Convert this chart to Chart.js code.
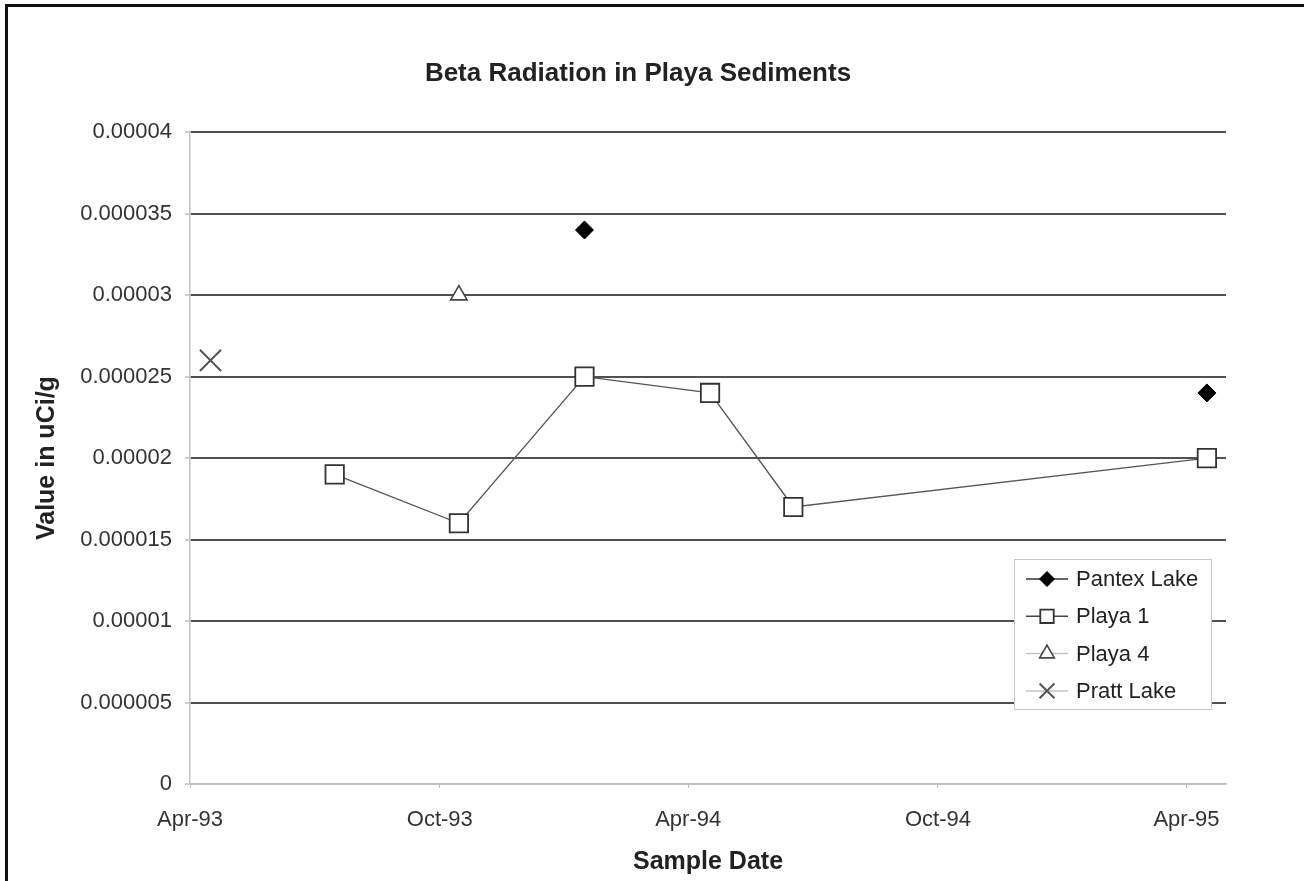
<!DOCTYPE html>
<html>
<head>
<meta charset="utf-8">
<title>Beta Radiation in Playa Sediments</title>
<script src="https://cdn.jsdelivr.net/npm/chart.js@4/dist/chart.umd.min.js"></script>
<style>
  html, body { margin: 0; padding: 0; background: #fff; overflow: hidden; }
  canvas { display: block; }
  #frame {
    position: absolute; left: 5px; top: 4px; width: 1299px; height: 900px;
    box-sizing: border-box; border-top: 3px solid #111; border-left: 3px solid #111;
    pointer-events: none;
  }
</style>
</head>
<body>
<canvas id="betaChart" width="1307" height="881"></canvas>
<div id="frame"></div>
<script>
// Sample dates and values (uCi/g) for each site
var pantexDates = ['1994-01-15', '1995-04-16'];
var pantexValues = [0.000034, 0.000024];

var playa1Dates = ['1993-07-16', '1993-10-15', '1994-01-15', '1994-04-17', '1994-06-17', '1995-04-16'];
var playa1Values = [0.000019, 0.000016, 0.000025, 0.000024, 0.000017, 0.00002];

var playa4Dates = ['1993-10-15'];
var playa4Values = [0.00003];

var prattDates = ['1993-04-16'];
var prattValues = [0.000026];

// Axis ticks
var xTickDates = ['1993-04-01', '1993-10-01', '1994-04-01', '1994-10-01', '1995-04-01'];
var xTickLabels = ['Apr-93', 'Oct-93', 'Apr-94', 'Oct-94', 'Apr-95'];
var xStartDate = '1993-04-01';
var xEndDate = '1995-04-30';

var yTickValues = [0, 0.000005, 0.00001, 0.000015, 0.00002, 0.000025, 0.00003, 0.000035, 0.00004];
var yTickLabels = ['0', '0.000005', '0.00001', '0.000015', '0.00002', '0.000025', '0.00003', '0.000035', '0.00004'];

// Days since the start of the axis
function dayOf(dateStr) {
    var p = dateStr.split('-');
    var s = xStartDate.split('-');
    var t = Date.UTC(+p[0], +p[1] - 1, +p[2]);
    var t0 = Date.UTC(+s[0], +s[1] - 1, +s[2]);
    return Math.round((t - t0) / 86400000);
}

function toPoints(dates, values) {
    return dates.map(function(d, i) {
        return { x: dayOf(d), y: values[i] };
    });
}

var FONT = "'Liberation Sans', Arial, sans-serif";

// Legend drawn inside the plot area, like the original
var boxLegend = {
    id: 'boxLegend',
    afterDraw: function(chart) {
        var ctx = chart.ctx;
        var left = 1014, top = 559, w = 197, h = 150;
        var rowH = 37.3;
        ctx.save();
        ctx.fillStyle = '#fff';
        ctx.fillRect(left, top, w, h);
        ctx.strokeStyle = '#c8c8c8';
        ctx.lineWidth = 1;
        ctx.strokeRect(left + 0.5, top + 0.5, w, h);

        var sizes = [7.5, 9.5, 8.5, 10.5];
        var lineColors = ['#333', '#444', '#c4c4c4', '#c4c4c4'];
        chart.data.datasets.forEach(function(ds, i) {
            var y = top + 20 + i * rowH;
            ctx.strokeStyle = lineColors[i];
            ctx.lineWidth = 1.5;
            ctx.beginPath();
            ctx.moveTo(left + 12, y);
            ctx.lineTo(left + 54, y);
            ctx.stroke();

            ctx.fillStyle = ds.pointBackgroundColor;
            ctx.strokeStyle = ds.pointBorderColor;
            ctx.lineWidth = ds.pointBorderWidth;
            Chart.helpers.drawPoint(ctx, {
                pointStyle: ds.pointStyle,
                radius: sizes[i],
                borderWidth: ds.pointBorderWidth,
                rotation: 0
            }, left + 33, y);

            ctx.fillStyle = '#222';
            ctx.font = '22px ' + FONT;
            ctx.textBaseline = 'middle';
            ctx.textAlign = 'left';
            ctx.fillText(ds.label, left + 62, y + 1);
        });
        ctx.restore();
    }
};

var ctx = document.getElementById('betaChart').getContext('2d');
var betaChart = new Chart(ctx, {
    type: 'scatter',
    data: {
        datasets: [{
            label: 'Pantex Lake',
            data: toPoints(pantexDates, pantexValues),
            showLine: false,
            pointStyle: 'rectRot',
            pointRadius: 9,
            pointBackgroundColor: '#000',
            pointBorderColor: '#000',
            pointBorderWidth: 1
        }, {
            label: 'Playa 1',
            data: toPoints(playa1Dates, playa1Values),
            showLine: true,
            borderColor: '#555',
            borderWidth: 1.4,
            pointStyle: 'rect',
            pointRadius: 13,
            pointBackgroundColor: '#fff',
            pointBorderColor: '#333',
            pointBorderWidth: 1.8
        }, {
            label: 'Playa 4',
            data: toPoints(playa4Dates, playa4Values),
            showLine: false,
            pointStyle: 'triangle',
            pointRadius: 9.5,
            pointBackgroundColor: '#fff',
            pointBorderColor: '#444',
            pointBorderWidth: 1.6
        }, {
            label: 'Pratt Lake',
            data: toPoints(prattDates, prattValues),
            showLine: false,
            pointStyle: 'crossRot',
            pointRadius: 15,
            pointBackgroundColor: '#555',
            pointBorderColor: '#555',
            pointBorderWidth: 2
        }]
    },
    options: {
        responsive: false,
        animation: false,
        devicePixelRatio: 1,
        layout: {
            padding: { left: 50, right: 81, top: 10, bottom: 0 }
        },
        plugins: {
            legend: { display: false },
            tooltip: { enabled: false },
            title: {
                display: true,
                text: 'Beta Radiation in Playa Sediments',
                color: '#222',
                font: { family: FONT, size: 26, weight: 'bold' },
                padding: { top: 48, bottom: 43 }
            }
        },
        scales: {
            x: {
                type: 'linear',
                min: dayOf(xStartDate),
                max: dayOf(xEndDate),
                afterBuildTicks: function(scale) {
                    scale.ticks = xTickDates.map(function(d) { return { value: dayOf(d) }; });
                },
                afterFit: function(scale) {
                    scale.height = 97;
                },
                ticks: {
                    autoSkip: false,
                    maxRotation: 0,
                    padding: 19,
                    color: '#333',
                    font: { family: FONT, size: 22 },
                    callback: function(value, index) {
                        return xTickLabels[index];
                    }
                },
                grid: {
                    drawOnChartArea: false,
                    tickLength: 4,
                    tickColor: '#bdbdbd'
                },
                border: { color: '#bdbdbd', width: 1.5 },
                title: {
                    display: true,
                    text: 'Sample Date',
                    color: '#222',
                    font: { family: FONT, size: 25, weight: 'bold' },
                    padding: { top: 0, bottom: 4 }
                }
            },
            y: {
                min: 0,
                max: 0.00004,
                afterBuildTicks: function(scale) {
                    scale.ticks = yTickValues.map(function(v) { return { value: v }; });
                },
                afterFit: function(scale) {
                    scale.width = 140;
                },
                ticks: {
                    padding: 13,
                    color: '#333',
                    font: { family: FONT, size: 22 },
                    callback: function(value, index) {
                        return yTickLabels[index];
                    }
                },
                grid: {
                    lineWidth: 2,
                    color: function(c) {
                        return c.index === 0 ? '#c4c4c4' : '#505050';
                    },
                    tickLength: 5,
                    tickColor: '#bdbdbd',
                    tickWidth: 1.5
                },
                border: { color: '#c4c4c4', width: 1.5 },
                title: {
                    display: true,
                    text: 'Value in uCi/g',
                    color: '#222',
                    font: { family: FONT, size: 25, weight: 'bold' },
                    padding: { top: -18, bottom: 0 }
                }
            }
        }
    },
    plugins: [boxLegend]
});
</script>
</body>
</html>
